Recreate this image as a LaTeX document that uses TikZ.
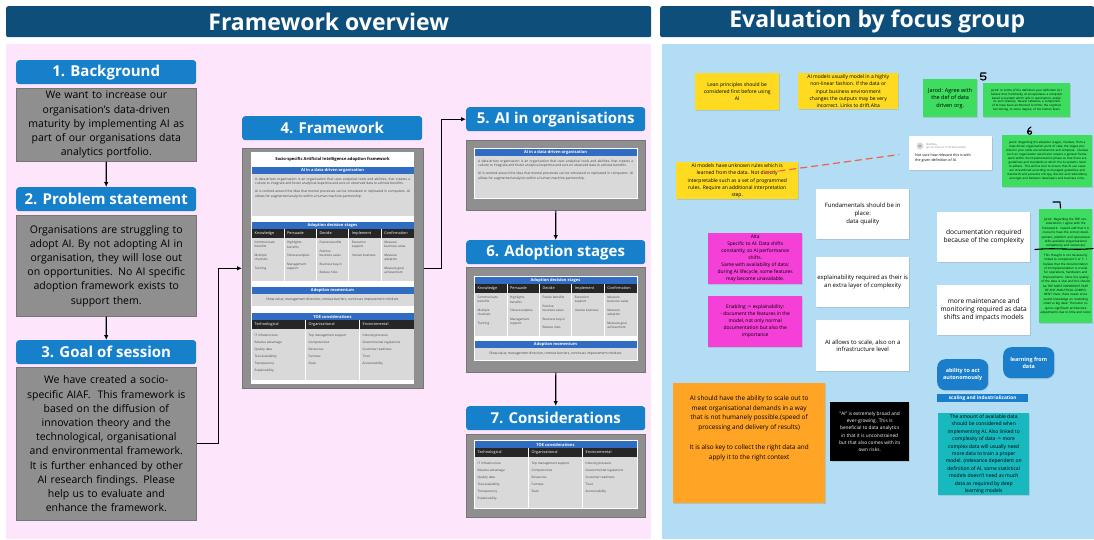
\documentclass[tikz,border=0pt]{standalone}
\usepackage{fontspec}
\setmainfont{Open Sans}
\usetikzlibrary{arrows.meta,shadows}

\definecolor{headblue}{RGB}{14,78,122}
\definecolor{pinkbg}{RGB}{253,229,251}
\definecolor{bluebg}{RGB}{178,221,245}
\definecolor{stepblue}{RGB}{22,128,202}
\definecolor{boxgray}{RGB}{143,143,143}
\definecolor{boxedge}{RGB}{118,118,118}
\definecolor{sheetblue}{RGB}{47,108,194}
\definecolor{sheetgray}{RGB}{217,217,217}
\definecolor{sheetdark}{RGB}{38,38,38}
\definecolor{stickyyellow}{RGB}{254,218,33}
\definecolor{stickygreen}{RGB}{62,220,95}
\definecolor{stickypink}{RGB}{245,64,216}
\definecolor{stickyorange}{RGB}{255,164,36}
\definecolor{stickyteal}{RGB}{24,185,190}
\definecolor{nodeblue}{RGB}{26,126,204}
\definecolor{pinred}{RGB}{240,96,74}

\newcommand{\setfs}[2]{\fontsize{#1}{#2}\selectfont}

\tikzset{
    panelhead/.style={fill=headblue, text=white, anchor=north west, inner sep=0pt,
        rounded corners=2pt, minimum height=31, font=\setfs{23}{23}\bfseries},
    steptitle/.style={fill=stepblue, text=white, rounded corners=3pt, anchor=north west,
        inner sep=0pt, minimum width=180, minimum height=24, font=\setfs{15}{15}\bfseries},
    stepbox/.style={fill=boxgray, draw=boxedge, line width=0.6pt, anchor=north west,
        inner sep=0pt, minimum width=180, text width=178pt, align=center,
        font=\setfs{10.5}{14.2}},
    shotframe/.style={fill=boxgray, draw=boxedge, line width=0.6pt, anchor=north west,
        inner sep=0pt, minimum width=179},
    link/.style={draw=black, line width=1.1pt, -{Latex[length=5pt,width=4.5pt]}},
    bandtext/.style={text=white, inner sep=0pt, font=\setfs{4}{4}\bfseries},
    colhead/.style={text=white, anchor=west, inner sep=0pt, font=\setfs{3.8}{3.8}},
    cellitems/.style={text=black!75, anchor=north west, inner sep=0pt, align=left,
        font=\setfs{3.1}{4.5}},
    note/.style={anchor=north west, inner sep=0pt, align=center,
        drop shadow={opacity=0.25, shadow xshift=0.8pt, shadow yshift=-0.8pt}},
    notesize/.style 2 args={minimum width=#1, minimum height=#2},
    card/.style={note, fill=white, font=\setfs{6}{7.8}},
    ink/.style={draw=black, line width=1.1pt, line cap=round, line join=round},
    % pieces of the framework sheet, 162 wide, top left at the pic origin
    aiorg/.pic={
        \fill[sheetblue] (0,0) rectangle (162,7);
        \node[bandtext] (-band) at (81,3.6) {AI in a data-driven organisation};
        \fill[sheetgray] (0,7) rectangle (162,49);
        \node[cellitems, text width=155pt, align=justify, font=\setfs{3.3}{4.6}] (-text) at (3.5,10.5)
            {A data-driven organisation is an organisation that uses analytical tools and
            abilities, that creates a culture to integrate and foster analytical expertise
            and acts on observed data to achieve benefits.\par\vspace{3pt}
            AI is centred around the idea that mental processes can be simulated or
            replicated in computers. AI allows for augmented analytics within a human
            machine-partnership.};
    },
    stages/.pic={
        \fill[sheetblue] (0,0) rectangle (162,7);
        \node[bandtext] (-band) at (81,3.6) {Adoption decision stages};
        \fill[sheetdark] (0,7) rectangle (162,15.5);
        \fill[sheetgray] (0,15.5) rectangle (162,59);
        \foreach \x in {32.4,64.8,97.2,129.6}
            \draw[white, line width=0.7pt] (\x,7) -- (\x,59);
        \node[colhead] (-know) at (3,11.3) {Knowledge};
        \node[colhead] (-pers) at (35.4,11.3) {Persuade};
        \node[colhead] (-deci) at (67.8,11.3) {Decide};
        \node[colhead] (-impl) at (100.2,11.3) {Implement};
        \node[colhead] (-conf) at (132.6,11.3) {Confirmation};
        \node[cellitems] (-knowl) at (3,19) {Communicate\\benefits\\[4pt]Multiple\\channels\\[4pt]Training};
        \node[cellitems] (-persl) at (35.4,19) {Highlights\\benefits\\[4pt]Show examples\\[4pt]Management\\support};
        \node[cellitems] (-decil) at (67.8,19) {Future benefits\\[4pt]Positive\\business cases\\[4pt]Business buy-in\\[4pt]Reduce risks};
        \node[cellitems] (-impll) at (100.2,19) {Execution\\support\\[4pt]Involve business};
        \node[cellitems] (-confl) at (132.6,19) {Measure\\business value\\[4pt]Measure\\adoption\\[4pt]Measure goal\\achievement};
    },
    momentum/.pic={
        \fill[sheetblue] (0,0) rectangle (162,7);
        \node[bandtext] (-band) at (81,3.6) {Adoption momentum};
        \fill[sheetgray] (0,7) rectangle (162,19);
        \node[cellitems, anchor=center, font=\setfs{3.3}{3.3}] (-text) at (81,13)
            {Show value, management direction, remove barriers, continues improvement mindset.};
    },
    toe/.pic={
        \fill[sheetblue] (0,0) rectangle (162,7);
        \node[bandtext] (-band) at (81,3.6) {TOE considerations};
        \fill[sheetdark] (0,7) rectangle (162,16);
        \fill[sheetgray] (0,16) rectangle (162,67);
        \foreach \x in {54,108}
            \draw[white, line width=1pt] (\x,7) -- (\x,67);
        \node[colhead] (-tech) at (3,11.5) {Technological};
        \node[colhead] (-orga) at (57,11.5) {Organisational};
        \node[colhead] (-envi) at (111,11.5) {Environmental};
        \node[cellitems] (-techl) at (3,21) {IT infrastructure\\[2.5pt]Relative advantage\\[2.5pt]Quality data\\[2.5pt]Tool availability\\[2.5pt]Transparency\\[2.5pt]Explainability};
        \node[cellitems] (-orgal) at (57,21) {Top management support\\[2.5pt]Competencies\\[2.5pt]Resources\\[2.5pt]Fairness\\[2.5pt]Slack};
        \node[cellitems] (-envil) at (111,21) {Industry pressure\\[2.5pt]Governmental regulations\\[2.5pt]Customer readiness\\[2.5pt]Trust\\[2.5pt]Accountability};
    },
}

\begin{document}
\begin{tikzpicture}[x=1pt, y=-1pt]
    \useasboundingbox (0,0) rectangle (1094,539);

    % the two panels
    \fill[pinkbg] (6,44) rectangle (651,539);
    \fill[bluebg] (662,44) rectangle (1094,539);
    \node[panelhead, minimum width=645] (lefthead) at (6,6) {Framework overview};
    \node[panelhead, minimum width=434] (righthead) at (660,6) {Evaluation by focus group};

    % steps 1-3
    \node[steptitle] (bgtitle) at (16,60) {1. Background};
    \node[stepbox, minimum height=73] (bgbox) at (16,88)
        {We want to increase our\\organisation's data-driven\\maturity by implementing AI as\\part of our organisations data\\analytics portfolio.};
    \node[steptitle] (probtitle) at (16,187) {2. Problem statement};
    \node[stepbox, minimum height=101] (probbox) at (16,215)
        {Organisations are struggling to\\adopt AI. By not adopting AI in\\organisation, they will lose out\\on opportunities. No AI specific\\adoption framework exists to\\support them.};
    \node[steptitle] (goaltitle) at (16,340) {3. Goal of session};
    \node[stepbox, minimum height=153] (goalbox) at (16,367)
        {We have created a socio-\\specific AIAF.\ \ This framework is\\based on the diffusion of\\innovation theory and the\\technological, organisational\\and environmental framework.\\It is further enhanced by other\\AI research findings. Please\\help us to evaluate and\\enhance the framework.};

    % step 4, the whole framework
    \node[steptitle] (fwtitle) at (242,116) {4. Framework};
    \node[shotframe, minimum width=181, minimum height=240] (fwshot) at (242,148) {};
    \fill[white] (251,152) rectangle (414,384);
    \node[inner sep=0pt, font=\setfs{4.1}{4.1}\bfseries] (fwname) at (332.5,159.5)
        {Socio-specific Artificial Intelligence adoption framework};
    \pic (fwai) at (251.5,167) {aiorg};
    \pic (fwstages) at (251.5,222) {stages};
    \pic (fwmom) at (251.5,287) {momentum};
    \pic (fwtoe) at (251.5,313) {toe};

    % steps 5-7
    \node[steptitle, minimum width=179] (aititle) at (466,107) {5. AI in organisations};
    \node[shotframe, minimum height=70] (aishot) at (466,140) {};
    \fill[white] (473.5,148) rectangle (637.5,199);
    \pic (aiai) at (474.5,149) {aiorg};

    \node[steptitle, minimum width=179] (stagetitle) at (466,240) {6. Adoption stages};
    \node[shotframe, minimum height=105] (stageshot) at (466,267) {};
    \fill[white] (473.5,276) rectangle (637.5,361);
    \pic (ststages) at (474.5,277) {stages};
    \pic (stmom) at (474.5,341) {momentum};

    \node[steptitle, minimum width=179] (constitle) at (466,406) {7. Considerations};
    \node[shotframe, minimum height=83] (consshot) at (466,434) {};
    \fill[white] (473.5,440) rectangle (637.5,509);
    \pic (cotoe) at (474.5,441) {toe};

    % flow
    \draw[link] (bgbox.south) -- (probtitle.north);
    \draw[link] (probbox.south) -- (goaltitle.north);
    \draw[link] (goalbox.east) -- ++(22,0) |- (fwshot.west);
    \draw[link] (fwshot.east) -- ++(18,0) |- (aititle.west);
    \draw[link] (aishot.south) -- (stagetitle.north);
    \draw[link] (stageshot.south) -- (constitle.north);

    % focus group notes
    \node[note, fill=stickyyellow, notesize={84}{37}, font=\setfs{5}{7.2}] (lean) at (695,73)
        {Lean principles should be\\considered first before using\\AI};
    \node[note, fill=stickyyellow, notesize={100}{36}, font=\setfs{5}{7.2}] (drift) at (798,73)
        {AI models usually model in a highly\\non-linear fashion. If the data or\\input business environment\\changes the outputs may be very\\incorrect. Links to drift.Alta};
    \node[note, fill=stickyyellow, notesize={122}{37}, font=\setfs{5}{7.2}] (rules) at (676,162)
        {AI models have unknown rules which is\\learned from the data. Not directly\\interpretable such as a set of programmed\\rules. Require an additional interpretation\\step.};

    \node[note, fill=white, notesize={83}{34}] (comment) at (909,136) {};
    \node[circle, fill=gray!30, minimum size=7, inner sep=0pt, text=gray,
        font=\setfs{3}{3}\bfseries] (avatar) at (920,146) {M};
    \node[anchor=west, inner sep=0pt, align=left, text=gray, font=\setfs{2.6}{3.4}] (author)
        at (926,146) {Matthieu\\Jan 20, 2022 at 11:04 AM (edited)};
    \node[anchor=north west, inner sep=0pt, align=left, font=\setfs{3.6}{5}] (commenttext)
        at (915,154) {Not sure how relevant this is with\\the given definition of AI.};

    \node[note, fill=stickygreen, notesize={54}{38}, font=\setfs{5.5}{7.4}] (agree) at (923,79)
        {Jarod: Agree with\\the def of data\\driven org.};
    \node[note, fill=stickygreen, notesize={87}{34}, text width=84pt, font=\setfs{2.9}{3.9}] (jarodfive) at (983,83)
        {Jarod: In terms of the definition your definition AI, I believe that, holistically, AI encapsulates a computer based ecosystem which aids in automation, analytics and creativity. Neural networks, a component of AI have been architected to mimic the cognitive functioning, to some degree, of the human brain.};
    \node[note, fill=stickygreen, notesize={90}{52}, text width=87pt, font=\setfs{2.95}{4}] (jarodsix) at (1002,135)
        {Jarod: Regarding the adoption stages, I believe, from a data driven organisation point of view, the stages provided in your table are wholesome and complete. I believe such an organisation would also require a general framework within the implementation phase so that there are guidelines and standards to which the AI systems need to adhere. This will be vital to ensure that AI use cases are streamlined according to managed guidelines and standards and prevents entropy, discord and redundancy amongst and between developers and business units.};
    \node[note, fill=stickygreen, notesize={53}{114}, text width=51pt, font=\setfs{3}{4.4}] (jarodseven) at (1039,209)
        {Jarod: Regarding the TOE considerations, I agree with the framework. I would add that it is crucial to have the correct development, platform and operational skills available (organisational competency and resources).\par\vspace{5pt}
        This thought is not necessarily linked to component 6 or 7. I believe that the documentation of AI implementation is crucial for operations, handovers and improvements. Next, the quality of the data is vital and this should be THE MOST IMPORTANT PART OF ANY ANALYTICAL COMPONENT. Next, there needs to be sound knowledge on modelling small vs big data! The latter requires significant architecture adjustments due to time and costs!};

    \node[note, fill=stickypink, notesize={94}{51}, font=\setfs{4.9}{7}] (alta) at (708,233)
        {Alta\\Specific to AI: Data shifts\\constantly, so AI performance\\shifts.\\Same with availability of data:\\during AI lifecycle, some features\\may become unavailable.};
    \node[note, fill=stickypink, notesize={94}{51}, font=\setfs{4.9}{7}] (enabling) at (708,296)
        {Enabling -> explainability:\\- document the features in the\\model, not only normal\\documentation but also the\\importance};

    \node[card, notesize={93}{50}] (fundamentals) at (816,189)
        {Fundamentals should be in\\place:\\data quality};
    \node[card, notesize={93}{50}] (explain) at (816,257)
        {explainability required as their is\\an extra layer of complexity};
    \node[card, notesize={93}{51}] (scale) at (816,320)
        {AI allows to scale, also on a\\infrastructure level};
    \node[card, notesize={93}{50}, font=\setfs{6.6}{8}] (docu) at (937,212)
        {documentation required\\because of the complexity};
    \node[card, notesize={93}{50}, font=\setfs{6.6}{8}] (maint) at (937,285)
        {more maintenance and\\monitoring required as data\\shifts and impacts models};

    \node[note, fill=nodeblue, rounded corners=8pt, text=white, notesize={51}{31},
        font=\setfs{5.4}{7.4}\bfseries] (learn) at (1003,347) {learning from\\data};
    \node[note, fill=nodeblue, rounded corners=8pt, text=white, notesize={51}{31},
        font=\setfs{5.4}{7.4}\bfseries] (autonomy) at (937,359) {ability to act\\autonomously};
    \node[anchor=north west, fill=nodeblue, text=white, inner sep=0pt, notesize={91}{7.5},
        font=\setfs{4.8}{4.8}\bfseries] (scaling) at (937,394) {scaling and industrialization};

    \node[note, fill=stickyteal, notesize={91}{82}, font=\setfs{5}{7.4}] (amount) at (938,413)
        {The amount of available data\\should be considered when\\implementing AI. Also linked to\\complexity of data -> more\\complex data will usually need\\more data to train a proper\\model. (relevance dependent on\\definition of AI, some statistical\\models doesn't need as much\\data as required by deep\\learning models};
    \node[note, fill=stickyorange, notesize={152}{120}, font=\setfs{6.4}{9.8}] (scaleout) at (673,383)
        {AI should have the ability to scale out to\\meet organisational demands in a way\\that is not humanely possible.(speed of\\processing and delivery of results)\\[9.8pt]It is also key to collect the right data and\\apply it to the right context\\[22pt]\mbox{}};
    \node[note, fill=black, text=white, notesize={79}{59}, font=\setfs{4.8}{7.2}] (broad) at (830,402)
        {"AI" is extremely broad and\\ever-growing. This is\\beneficial to data analytics\\in that it is unconstrained\\but that also comes with its\\own risks.};

    % comment pin on the rules note
    \coordinate (pin) at (764,173);
    \draw[pinred, line width=1.2pt, dash pattern=on 7pt off 4pt, {Latex[length=4pt,width=4pt]}-,
        shorten >=10pt] (pin) -- (comment.west);

    % pen marks
    \draw[ink] (986,73) -- (981,73) -- (980.5,76.5) .. controls (985,74.5) and (987.5,77.5) .. (985,79.5)
        .. controls (984,80.3) and (982,80.3) .. (980.5,79);
    \draw[ink] (1031,127) .. controls (1027.5,128.5) and (1026.5,133) .. (1029,134.2)
        .. controls (1032,135) and (1032.5,130.5) .. (1029.5,130.8) .. controls (1028.3,131) and (1027.6,132) .. (1027.6,132.6);
    \draw[ink] (1053,202) -- (1060,202) -- (1060.5,208);
    \draw[ink] (1035,249.5) .. controls (1055,247.5) and (1075,250.5) .. (1093,248.5);
\end{tikzpicture}
\end{document}
